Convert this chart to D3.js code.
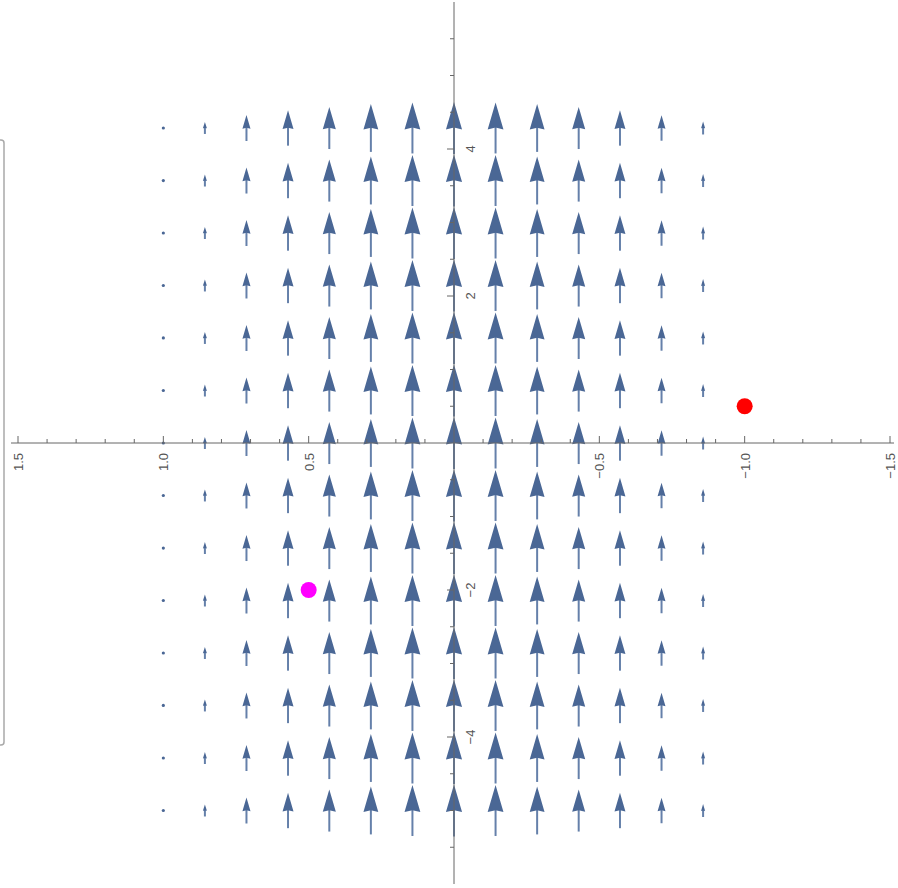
<!DOCTYPE html>
<html>
<head>
<meta charset="utf-8">
<script src="https://cdn.jsdelivr.net/npm/d3@7"></script>
<style>
  body { margin: 0; background: #fff; }
  svg { display: block; }
  text { font-family: "Liberation Sans", Arial, sans-serif; font-size: 13px; fill: #555; }
</style>
</head>
<body>
<div id="chart"></div>
<script>
// grid of arrows (x columns, y rows) and arrow magnitude per column
var colX = [1.000, 0.857, 0.714, 0.571, 0.429, 0.286, 0.143, 0.000, -0.143, -0.286, -0.429, -0.571, -0.714, -0.857];
var colMag = [0.00, 0.23, 0.50, 0.68, 0.81, 0.92, 0.98, 1.00, 0.98, 0.92, 0.81, 0.68, 0.49, 0.25];
var rowY = [4.286, 3.571, 2.857, 2.143, 1.429, 0.714, 0.000, -0.714, -1.429, -2.143, -2.857, -3.571, -4.286, -5.000];

// tick labels
var xMajorTicks = [1.5, 1.0, 0.5, -0.5, -1.0, -1.5];
var yMajorTicks = [4, 2, -2, -4];

// the two marked points
var pointX = [-1.0, 0.5];
var pointY = [0.5, -2.0];
var pointColor = ["#ff0000", "#ff00ff"];

var W = 898, H = 888;
var svg = d3.select("#chart").append("svg")
    .attr("width", W)
    .attr("height", H);

var x = d3.scaleLinear().domain([1.5, -1.5]).range([18, 890]);
var y = d3.scaleLinear().domain([-6, 6]).range([884, 2]);
var len = d3.scaleLinear().domain([0, 1]).range([0, 52]);

var arrowColor = "#4a6795";
var axisColor = "#666";

// partial frame on the left edge
svg.append("rect")
    .attr("x", -12).attr("y", 140)
    .attr("width", 16).attr("height", 605)
    .attr("rx", 3)
    .attr("fill", "none")
    .attr("stroke", "#a9a9a9")
    .attr("stroke-width", 1.5);

// ARROWS
var cells = [];
rowY.forEach(function (ry) {
    colX.forEach(function (cx, i) {
	cells.push({ x: cx, y: ry, m: colMag[i] });
    });
});

var arrows = svg.append("g").attr("class", "arrows");

arrows.selectAll(".dot")
    .data(cells.filter(function (d) { return d.m === 0; }))
    .enter()
    .append("circle")
    .attr("cx", function (d) { return x(d.x); })
    .attr("cy", function (d) { return y(d.y); })
    .attr("r", 1.6)
    .attr("fill", arrowColor);

var vec = arrows.selectAll(".vec")
    .data(cells.filter(function (d) { return d.m > 0; }))
    .enter()
    .append("g")
    .attr("class", "vec");

vec.append("line")
    .attr("x1", function (d) { return x(d.x); })
    .attr("x2", function (d) { return x(d.x); })
    .attr("y1", function (d) { return y(d.y) + len(d.m) / 2; })
    .attr("y2", function (d) { return y(d.y) - len(d.m) / 2 + len(d.m) * 0.45; })
    .attr("stroke", "#6580aa")
    .attr("stroke-width", 2);

vec.append("path")
    .attr("d", function (d) {
	var cx = x(d.x), L = len(d.m);
	var tip = y(d.y) - L / 2;
	var hl = L * 0.53, hw = Math.max(L * 0.155, 2);
	return "M" + cx + "," + tip +
	    "L" + (cx + hw) + "," + (tip + hl) +
	    "L" + cx + "," + (tip + hl * 0.93) +
	    "L" + (cx - hw) + "," + (tip + hl) + "Z";
    })
    .attr("fill", arrowColor);

// AXES
var axes = svg.append("g").attr("class", "axes");
var x0 = x(0), y0 = y(0);

axes.append("line")
    .attr("x1", 11).attr("x2", 894)
    .attr("y1", y0).attr("y2", y0)
    .attr("stroke", axisColor);
axes.append("line")
    .attr("x1", x0).attr("x2", x0)
    .attr("y1", y(6)).attr("y2", y(-6))
    .attr("stroke", axisColor);

// x ticks point up
var xMinor = x.ticks(30).filter(function (t) { return Math.abs(t) > 1e-9; });
axes.selectAll(".xtick")
    .data(xMinor)
    .enter()
    .append("line")
    .attr("x1", function (d) { return x(d); })
    .attr("x2", function (d) { return x(d); })
    .attr("y1", y0)
    .attr("y2", function (d) {
	return y0 - (xMajorTicks.some(function (m) { return Math.abs(m - d) < 1e-9; }) ? 7 : 4);
    })
    .attr("stroke", axisColor);

// y ticks point left
var yMinor = y.ticks(24).filter(function (t) { return Math.abs(t) > 1e-9 && Math.abs(t) < 6; });
axes.selectAll(".ytick")
    .data(yMinor)
    .enter()
    .append("line")
    .attr("y1", function (d) { return y(d); })
    .attr("y2", function (d) { return y(d); })
    .attr("x1", x0)
    .attr("x2", function (d) {
	return x0 - (yMajorTicks.indexOf(d) >= 0 ? 7 : 4);
    })
    .attr("stroke", axisColor);

var fmtX = d3.format(".1f");
axes.selectAll(".xlab")
    .data(xMajorTicks)
    .enter()
    .append("text")
    .attr("text-anchor", "end")
    .attr("transform", function (d) {
	return "translate(" + (x(d) + 5) + "," + (y0 + 10) + ") rotate(-90)";
    })
    .text(function (d) { return fmtX(d); });

axes.selectAll(".ylab")
    .data(yMajorTicks)
    .enter()
    .append("text")
    .attr("text-anchor", "middle")
    .attr("transform", function (d) {
	return "translate(" + (x0 + 21) + "," + y(d) + ") rotate(-90)";
    })
    .text(function (d) { return d3.format("d")(d); });

// POINTS
svg.append("g").selectAll("circle")
    .data(pointX)
    .enter()
    .append("circle")
    .attr("cx", function (d) { return x(d); })
    .attr("cy", function (d, i) { return y(pointY[i]); })
    .attr("r", 8)
    .attr("fill", function (d, i) { return pointColor[i]; });
</script>
</body>
</html>
